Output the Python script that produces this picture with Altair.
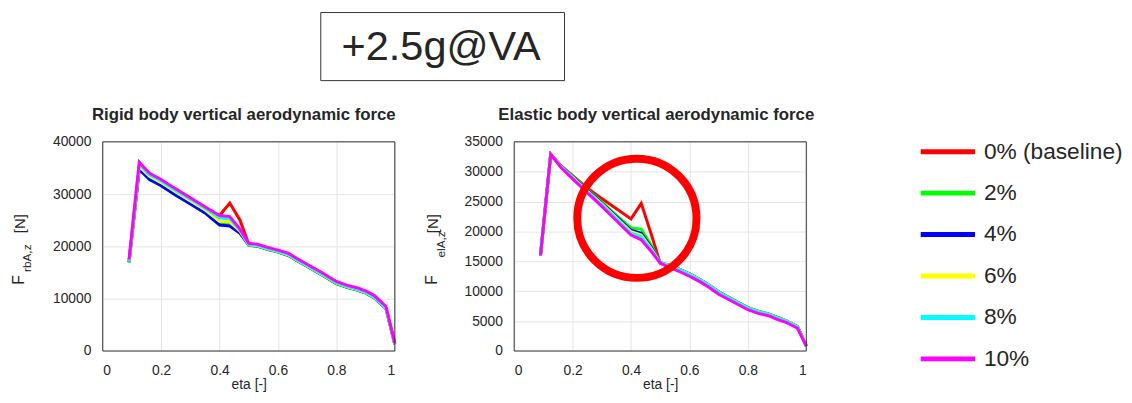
import altair as alt
import pandas as pd

eta = [0.09, 0.125, 0.16, 0.2, 0.25, 0.3, 0.35, 0.4, 0.435, 0.47, 0.5, 0.53, 0.565,
       0.6, 0.635, 0.665, 0.7, 0.75, 0.8, 0.835, 0.87, 0.9, 0.93, 0.97, 1.0]

labels = ["0% (baseline)", "2%", "4%", "6%", "8%", "10%"]
colors = ["#ff0000", "#00ff00", "#0000ff", "#ffff00", "#00ffff", "#ff00ff"]
legend_rows = [0, 1, 2, 3, 4, 5]

# Rigid body vertical aerodynamic force [N]
rigid_0 = [17000, 35100, 33200, 32000, 30200, 28500, 26800, 25900, 28300, 25000, 20400, 20100, 19500,
           19000, 18350, 17350, 16250, 14650, 12950, 12250, 11750, 11150, 10250, 8150, 1350]
rigid_2 = [16900, 35000, 33100, 31900, 30100, 28400, 26700, 24400, 24200, 22700, 20200, 20000, 19400,
           18900, 18250, 17250, 16150, 14550, 12850, 12150, 11650, 11050, 10150, 8050, 1300]
rigid_4 = [17000, 34700, 32800, 31600, 29800, 28100, 26400, 24100, 23900, 22500, 20250, 20050, 19450,
           18950, 18300, 17300, 16200, 14600, 12900, 12200, 11700, 11100, 10200, 8100, 1300]
rigid_6 = [17100, 35300, 33400, 32200, 30400, 28700, 27000, 24800, 24700, 22900, 20300, 20100, 19500,
           19000, 18350, 17350, 16250, 14650, 12950, 12250, 11750, 11150, 10250, 8150, 1350]
rigid_8 = [17200, 35700, 33700, 32500, 30700, 29000, 27300, 25400, 25300, 23100, 20400, 20200, 19600,
           19100, 18450, 17450, 16350, 14750, 13050, 12350, 11850, 11250, 10350, 8250, 1400]
rigid_10 = [17500, 36100, 34000, 32800, 31000, 29300, 27600, 25900, 25700, 23300, 20600, 20400, 19800,
            19300, 18700, 17700, 16600, 15000, 13300, 12600, 12100, 11500, 10600, 8500, 1500]

# Elastic body vertical aerodynamic force [N]
elastic_0 = [16000, 32900, 31000, 29350, 27300, 25500, 23800, 22100, 24700, 19400, 14700, 14350, 13700,
             12900, 12000, 11100, 9900, 8550, 7250, 6650, 6200, 5650, 5100, 4100, 850]
elastic_2 = [16000, 32900, 30950, 29250, 27100, 24900, 22700, 20600, 20400, 17600, 14800, 14350, 13700,
             12900, 12000, 11100, 9900, 8550, 7250, 6650, 6200, 5650, 5100, 4100, 850]
elastic_4 = [16000, 32900, 30900, 29150, 26950, 24750, 22500, 20200, 19700, 17300, 14800, 14300, 13650,
             12850, 11950, 11050, 9850, 8500, 7200, 6600, 6150, 5600, 5050, 4050, 850]
elastic_6 = [16000, 32900, 30850, 29050, 26800, 24600, 22300, 19950, 19400, 17100, 14750, 14300, 13650,
             12850, 11950, 11050, 9850, 8500, 7200, 6600, 6150, 5600, 5050, 4050, 850]
elastic_8 = [16000, 32900, 30800, 28950, 26700, 24450, 22100, 19700, 19100, 16900, 14750, 14250, 13600,
             12800, 11900, 11000, 9800, 8450, 7150, 6550, 6100, 5550, 5000, 4000, 850]
elastic_10 = [16000, 32900, 30700, 28800, 26500, 24200, 21800, 19400, 18600, 16600, 14700, 14000, 13300,
              12500, 11600, 10700, 9500, 8200, 6900, 6300, 5900, 5300, 4800, 3800, 800]

circle_eta = [0.42]
circle_force = [22200]

FONT = "Liberation Sans"
TXT = "#262626"
W, H = 296, 212

color_scale = alt.Scale(domain=labels, range=colors)


def make_df(series):
    rows = []
    for lab, vals in zip(labels, series):
        for e, v in zip(eta, vals):
            rows.append({"eta": e, "F": v, "series": lab})
    return pd.DataFrame(rows)


def text_layer(txt, x, y, size, angle=0, align="center", baseline="middle", weight="normal"):
    kw = dict(fontSize=size, align=align, baseline=baseline, color=TXT, fontWeight=weight, font=FONT)
    if angle:
        kw["angle"] = angle
    return alt.Chart(pd.DataFrame({"t": [txt]})).mark_text(**kw).encode(
        x=alt.value(x), y=alt.value(y), text="t:N")


def frame_layer():
    return alt.Chart(pd.DataFrame({"k": [1]})).mark_rect(
        filled=False, stroke="#333333", strokeWidth=1).encode(
        x=alt.value(0), x2=alt.value(W), y=alt.value(0), y2=alt.value(H))


def encodings(ymax, ystep):
    xenc = alt.X("eta:Q", scale=alt.Scale(domain=[0, 1], nice=False),
                 axis=alt.Axis(values=[0, 0.2, 0.4, 0.6, 0.8, 1], format="~g", title="eta [-]",
                               grid=True, gridColor="#e4e4e4", domain=False, ticks=False,
                               labelFontSize=14, labelColor=TXT, labelPadding=13, labelOverlap=False,
                               titleFontSize=14, titleFontWeight="normal", titleColor=TXT,
                               titlePadding=0, labelFont=FONT, titleFont=FONT))
    yenc = alt.Y("F:Q", scale=alt.Scale(domain=[0, ymax], nice=False),
                 axis=alt.Axis(values=list(range(0, ymax + 1, ystep)), format="d", title=None,
                               grid=True, gridColor="#e4e4e4", domain=False, ticks=False,
                               labelOverlap=False, labelFontSize=14, labelColor=TXT,
                               labelPadding=12, labelFont=FONT))
    return xenc, yenc


def panel(series, ymax, ystep, title, sub, f_x, sub_x, sub_y, n_y, title_dx, circle=None):
    df = make_df(series)
    xenc, yenc = encodings(ymax, ystep)
    lines = alt.Chart(df).mark_line(strokeWidth=3).encode(
        x=xenc, y=yenc,
        color=alt.Color("series:N", scale=color_scale, legend=None),
    )
    layers = [lines, frame_layer(),
              text_layer("F", f_x, 140, 16, angle=270),
              text_layer(sub, sub_x, sub_y, 12, angle=270),
              text_layer("[N]", f_x + 1, n_y, 15, angle=270)]
    if circle is not None:
        cdf = pd.DataFrame({"eta": circle[0], "F": circle[1]})
        layers.append(alt.Chart(cdf).mark_point(
            shape="circle", filled=False, size=14600, strokeWidth=8, color="#ff0000",
            opacity=1).encode(x=xenc, y=yenc))
    return alt.layer(*layers).properties(
        width=W, height=H,
        title=alt.TitleParams(title, fontSize=17, fontWeight="bold", font=FONT, color=TXT,
                              anchor="middle", offset=11, dx=title_dx))


left = panel([rigid_0, rigid_2, rigid_4, rigid_6, rigid_8, rigid_10],
             40000, 10000, "Rigid body vertical aerodynamic force", "rbA,z", -85, -77, 118, 83, -5)

right = panel([elastic_0, elastic_2, elastic_4, elastic_6, elastic_8, elastic_10],
              35000, 5000, "Elastic body vertical aerodynamic force", "elA,z", -83, -74, 104, 83, -4,
              circle=(circle_eta, circle_force))

leg_df = pd.DataFrame({"series": labels, "row": legend_rows})
leg_y = alt.Y("row:Q", scale=alt.Scale(domain=[0, 5], range=[10, 220], nice=False, zero=False), axis=None)
leg_rules = alt.Chart(leg_df).mark_rule(strokeWidth=5).encode(
    x=alt.value(-5), x2=alt.value(50), y=leg_y,
    color=alt.Color("series:N", scale=color_scale, legend=None))
leg_text = alt.Chart(leg_df).mark_text(align="left", baseline="middle", fontSize=23,
                                       color=TXT, font=FONT).encode(
    x=alt.value(59), y=leg_y, text="series:N")
# boxed headline, positioned relative to this (legend) view
box = alt.Chart(pd.DataFrame({"k": [1]})).mark_rect(filled=False, stroke="#333333", strokeWidth=1).encode(
    x=alt.value(-613), x2=alt.value(-366), y=alt.value(-131), y2=alt.value(-62))
main_title = text_layer("+2.5g@VA", -491, -83, 42, baseline="alphabetic")
legend = alt.layer(leg_rules, leg_text, box, main_title).properties(width=190, height=H)

chart = alt.hconcat(left, right, legend, spacing=121, bounds="flush").properties(
    padding={"left": 2, "top": 1, "right": 0, "bottom": 0}
).configure(font=FONT).configure_view(stroke="transparent")

chart.save("out.html", embed_options={"renderer": "svg", "actions": False})
